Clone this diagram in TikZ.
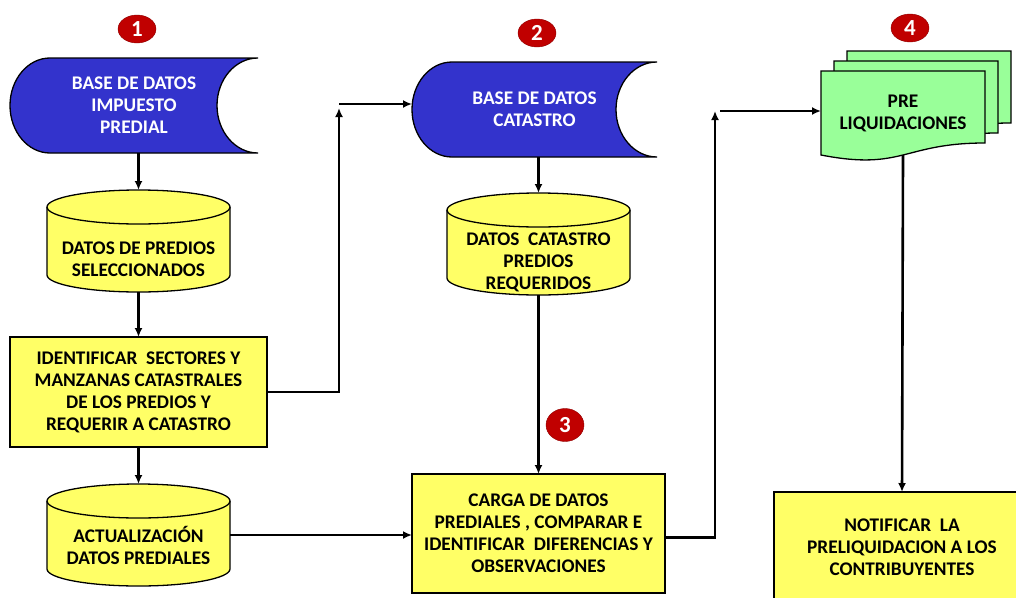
\documentclass[tikz,border=0pt]{standalone}
\usepackage{fontspec}
\setmainfont{Carlito}
\usetikzlibrary{arrows.meta,backgrounds,shapes.geometric}

\definecolor{dbblue}{RGB}{51,51,204}
\definecolor{boxyellow}{RGB}{255,255,102}
\definecolor{docgreen}{RGB}{153,255,153}
\definecolor{stepred}{RGB}{192,0,0}

% blue stored data shape round node #1
\newcommand{\storedata}[1]{%
  \draw[shapeline, fill=dbblue] ([xshift=40pt]#1.north west) -- (#1.north east)
    arc[start angle=90, end angle=270, x radius=41pt, y radius=47.5pt]
    -- ([xshift=40pt]#1.south west)
    arc[start angle=270, end angle=90, x radius=40pt, y radius=47.5pt] -- cycle;}

% yellow data base drum round node #1
\newcommand{\drum}[1]{%
  \draw[shapeline, fill=boxyellow] ([yshift=-17pt]#1.north west) -- ([yshift=17pt]#1.south west)
    arc[start angle=180, end angle=360, x radius=91.5pt, y radius=17pt]
    -- ([yshift=-17pt]#1.north east)
    arc[start angle=0, end angle=180, x radius=91.5pt, y radius=17pt] -- cycle;
  \draw[shapeline] ([yshift=-17pt]#1.north west)
    arc[start angle=180, end angle=360, x radius=91.5pt, y radius=17pt];}

% one green page, shifted by (#2,#3)
\newcommand{\docpage}[3]{%
  \draw[shapeline, fill=docgreen]
    ([shift={(#2,#3)}]#1.north west) -- ([shift={(#2,#3)}]#1.north east)
    -- ([shift={(#2,#3-12)}]#1.south east)
    .. controls ([shift={(#2,#3-12)}]#1.south) and ([shift={(#2,#3+16)}]#1.south)
    .. ([shift={(#2,#3)}]#1.south west) -- cycle;}

\begin{document}
\begin{tikzpicture}[x=1pt, y=-1pt,
    shapeline/.style={line width=1.3pt},
    arrowline/.style={line width=2.6pt, -{Latex[length=9pt,width=8pt]}},
    label text/.style={font=\bfseries\fontsize{19.3}{22}\selectfont, align=center},
    badge/.style={ellipse, fill=stepred, draw=stepred!75!black, text=white,
        font=\bfseries\fontsize{23}{23}\selectfont, inner sep=0pt,
        minimum width=38pt, minimum height=28pt},
    storenode/.style={label text, text=white, inner sep=0pt, outer sep=0pt, minimum height=95pt},
    drumnode/.style={inner sep=0pt, outer sep=0pt, minimum width=183pt, minimum height=102pt},
    drumtext/.style={label text, inner sep=0pt},
    stepbox/.style={label text, draw, shapeline, fill=boxyellow, inner sep=0pt, outer sep=0pt},
    docnode/.style={label text, inner sep=0pt, outer sep=0pt, minimum width=164pt, minimum height=84pt}]

\useasboundingbox (0,0) rectangle (1016,597);

% numbers of the steps
\node[badge] (n1) at (137,29) {1};
\node[badge] (n2) at (537,33) {2};
\node[badge, minimum height=33pt] (n3) at (565,425) {3};
\node[badge] (n4) at (910,28) {4};

% first column
\node[storenode, minimum width=248pt] (bd1) at (134,105.5) {BASE DE DATOS\\IMPUESTO\\PREDIAL};
\node[drumnode] (c1) at (138.5,241) {};
\node[drumtext] (c1t) at (138.5,259) {DATOS DE PREDIOS\\SELECCIONADOS};
\node[stepbox, minimum width=257pt, minimum height=110pt] (r1) at (138.5,392)
    {IDENTIFICAR\ \ SECTORES Y\\MANZANAS CATASTRALES\\DE LOS PREDIOS Y\\REQUERIR A CATASTRO};
\node[drumnode] (c3) at (138.5,535) {};
\node[drumtext] (c3t) at (138.5,545) {ACTUALIZACIÓN\\DATOS PREDIALES};

% second column
\node[storenode, minimum width=245pt] (bd2) at (534.5,109.5) {BASE DE DATOS\\CATASTRO};
\node[drumnode] (c2) at (538.5,244) {};
\node[drumtext] (c2t) at (538.5,262) {DATOS\ \ CATASTRO\\PREDIOS\\REQUERIDOS};
\node[stepbox, minimum width=253pt, minimum height=119pt] (r2) at (538.5,533.5)
    {CARGA DE DATOS\\PREDIALES , COMPARAR E\\IDENTIFICAR\ \ DIFERENCIAS Y\\OBSERVACIONES};

% third column
\node[docnode] (pre) at (903,113) {PRE\\LIQUIDACIONES};
\node[stepbox, minimum width=256pt, minimum height=110pt] (r3) at (902,547)
    {NOTIFICAR\ \ LA\\PRELIQUIDACION A LOS\\CONTRIBUYENTES};

\coordinate (up1) at (339,104);
\coordinate (up2) at (715,111);

\begin{scope}[on background layer]
\storedata{bd1}
\storedata{bd2}
\drum{c1}
\drum{c2}
\drum{c3}
\foreach \k in {2,1,0}
    \docpage{pre}{13*\k}{-10*\k};
\end{scope}

% arrows
\draw[arrowline] (c1.north |- bd1.south) -- (c1.north);
\draw[arrowline] (c1.south) -- (r1.north);
\draw[arrowline] (r1.south) -- (c3.north);
\draw[arrowline] (r1.east) -| ([yshift=-4pt]up1);
\draw[arrowline] (up1) -- (up1 -| bd2.west);
\draw[arrowline] (c2.north |- bd2.south) -- (c2.north);
\draw[arrowline] (c2.south) -- (r2.north);
\draw[arrowline] (c3.east) -- (c3.east -| r2.west);
\draw[arrowline] ([yshift=-4pt]r2.east) -| (up2);
\draw[arrowline] ([xshift=5pt]up2) -- (up2 -| pre.west);
\draw[arrowline] (pre.south) -- (r3.north);

\end{tikzpicture}
\end{document}
